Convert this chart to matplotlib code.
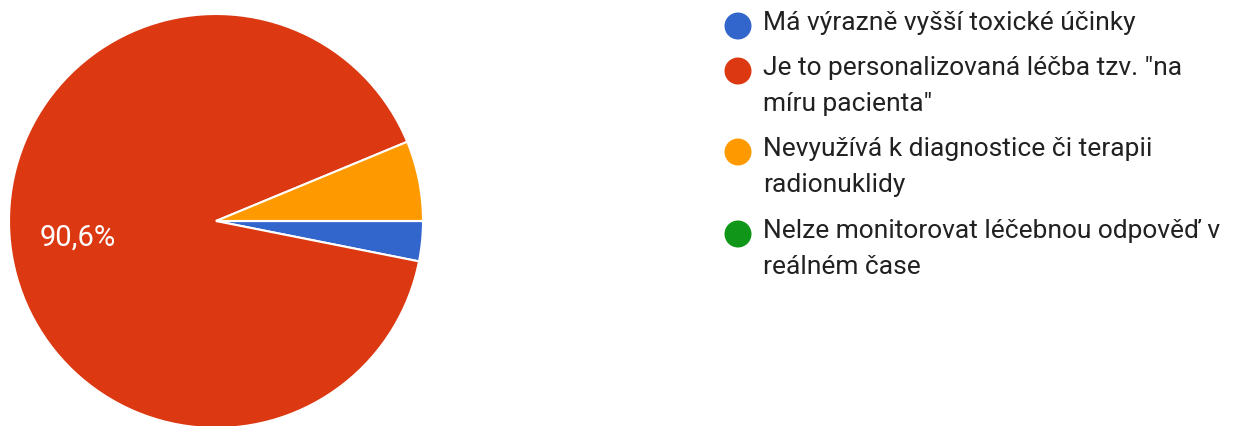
import matplotlib
matplotlib.use("Agg")
import matplotlib.pyplot as plt

categories = [
    "Má výrazně vyšší toxické účinky",
    "Je to personalizovaná léčba tzv. \"na\nmíru pacienta\"",
    "Nevyužívá k diagnostice či terapii\nradionuklidy",
    "Nelze monitorovat léčebnou odpověď v\nreálném čase",
]
values = [1, 29, 2, 0]
colors = ["#3366CC", "#DC3912", "#FF9900", "#109618"]

plt.rcParams['font.family'] = ['Roboto', 'DejaVu Sans']

W, H = 1248, 427
fig = plt.figure(figsize=(W / 100, H / 100), dpi=100)
fig.patch.set_facecolor("white")

cx, cy, r = 216, 222, 207
ax = fig.add_axes([(cx - r) / W, (H - cy - r) / H, 2 * r / W, 2 * r / H])

def fmt(p):
    return (f"{p:.1f}%".replace(".", ",")) if p > 10 else ""

wedges, texts, autotexts = ax.pie(
    values, colors=colors, startangle=0, counterclock=False, radius=1,
    autopct=fmt, pctdistance=0.67,
    wedgeprops=dict(edgecolor="white", linewidth=1.5),
    textprops=dict(color="white", fontsize=21),
)
for w in wedges:
    w.set_clip_on(False)
for t in autotexts:
    x, y = t.get_position()
    t.set_position((x, y - 0.01))
ax.set_xlim(-1, 1)
ax.set_ylim(-1, 1)
ax.set_aspect("equal")
ax.axis("off")

# legend
mx, tx = 738, 763
ys = [27, 72, 153, 235]
legax = fig.add_axes([0, 0, 1, 1], facecolor="none")
legax.set_xlim(0, W)
legax.set_ylim(H, 0)
legax.axis("off")
for cat, col, y in zip(categories, colors, ys):
    legax.scatter([mx], [y], s=(27 * 0.72) ** 2, color=col, zorder=3,
                  edgecolors="none")
    legax.text(tx, y - 16, cat, fontsize=19, color="#212121", va="top",
               ha="left", linespacing=1.62)

fig.savefig("out.png", dpi=100, facecolor="white")
